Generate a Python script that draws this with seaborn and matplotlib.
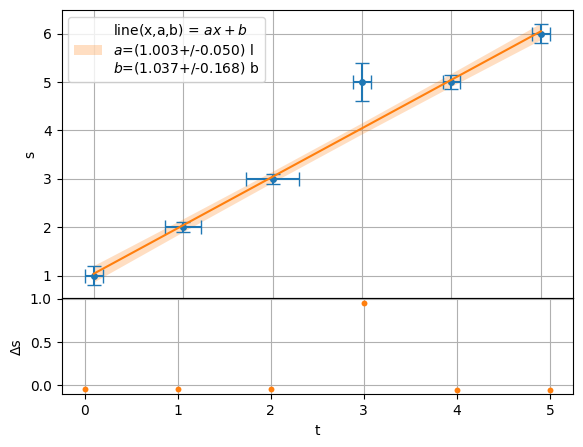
import numpy as np
import pandas as pd
import matplotlib
matplotlib.use('Agg')
import matplotlib.pyplot as plt
import seaborn as sns

t = [0, 1, 2, 3, 4, 5]
s = [1, 2, 3, 5, 5, 6]
t_err = [0.1, 0.2, 0.3, 0.1, 0.1, 0.1]
s_err = [0.2, 0.1, 0.1, 0.4, 0.14, 0.2]

# fitted line and its uncertainty band
fit_s = [1.037, 2.040, 3.043, 4.046, 5.049, 6.052]
band_halfwidth = [0.17, 0.135, 0.115, 0.115, 0.135, 0.17]

# residuals
residuals = [-0.037, -0.040, -0.043, 0.954, -0.049, -0.052]

fit_label = ('line(x,a,b) = $ax+b$\n'
             '$a$=(1.003+/-0.050) l\n'
             '$b$=(1.037+/-0.168) b')

df = pd.DataFrame({'t': t, 's': s, 'fit': fit_s, 'res': residuals})
lo = [f - h for f, h in zip(fit_s, band_halfwidth)]
hi = [f + h for f, h in zip(fit_s, band_halfwidth)]

# plain matplotlib look
sns.reset_orig()
plt.rcParams['font.family'] = ['DejaVu Sans']

fig = plt.figure(figsize=(5.83, 4.47), dpi=100)
ax = fig.add_axes([0.1055, 0.3327, 0.8775, 0.6450])
ax_res = fig.add_axes([0.1055, 0.1179, 0.8775, 0.2148])

# main plot
ax.errorbar(t, s, xerr=t_err, yerr=s_err, fmt='o', color='C0',
            markersize=4, capsize=5, zorder=3)
sns.lineplot(data=df, x='t', y='fit', ax=ax, color='C1', linewidth=1.5, zorder=4)
ax.fill_between(t, lo, hi, color='C1', alpha=0.25, linewidth=0, label=fit_label, zorder=2)
ax.set_ylabel('s')
ax.set_xlabel('')
ax.grid(True)
ax.tick_params(axis='x', bottom=False, labelbottom=False)
ax.legend(loc='upper left')

# residual plot
sns.scatterplot(data=df, x='t', y='res', ax=ax_res, color='C1', marker='o',
                s=18, linewidth=0, zorder=3)
ax_res.set_xlabel('t')
ax_res.set_ylabel('Δs')
ax_res.grid(True)
ax_res.set_yticks([0.0, 0.5, 1.0])

fig.savefig('out.png', dpi=100)
